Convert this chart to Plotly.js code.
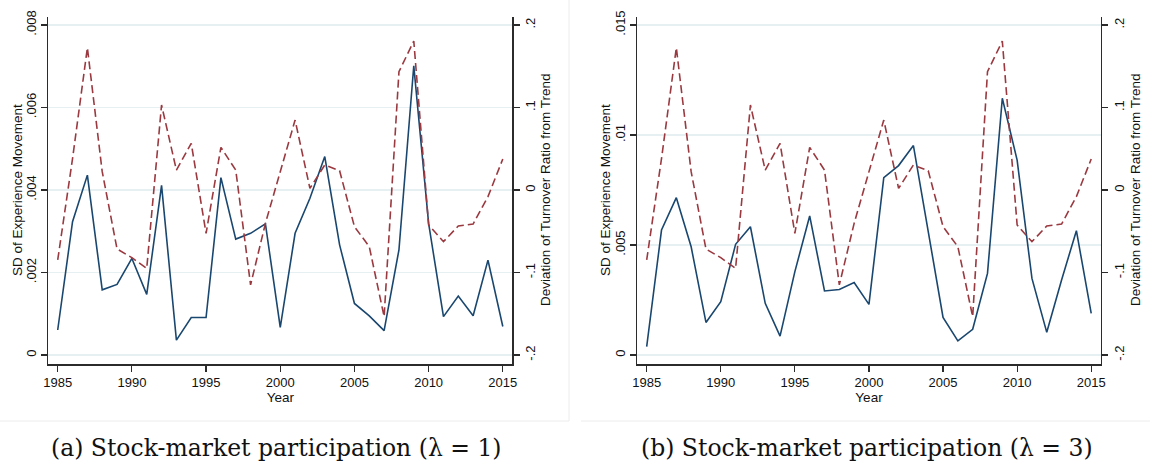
<!DOCTYPE html>
<html>
<head>
<meta charset="utf-8">
<script src="https://cdn.plot.ly/plotly-3.0.1.min.js"></script>
<style>html,body{margin:0;padding:0;background:#fff;}#chart{width:1150px;height:466px;}</style>
</head>
<body>
<div id="chart"></div>
<script>
const years = [1985,1986,1987,1988,1989,1990,1991,1992,1993,1994,1995,1996,1997,1998,1999,2000,2001,2002,2003,2004,2005,2006,2007,2008,2009,2010,2011,2012,2013,2014,2015];
// Panel (a): SD of experience movement, lambda = 1
const sdLambda1 = [0.000606,0.00323,0.00436,0.00158,0.00171,0.00234,0.00147,0.00411,0.00036,0.00091,0.00091,0.00430,0.00281,0.00295,0.00318,0.00067,0.00295,0.00380,0.00481,0.00267,0.00125,0.00095,0.00059,0.00255,0.00701,0.00319,0.00093,0.00143,0.00095,0.00230,0.00069];
// Panel (b): SD of experience movement, lambda = 3
const sdLambda3 = [0.00038,0.00568,0.00715,0.00492,0.00148,0.00242,0.00503,0.00583,0.00235,0.00086,0.00379,0.00632,0.00291,0.00298,0.00329,0.00230,0.00806,0.00861,0.00952,0.00561,0.00171,0.00064,0.00117,0.00371,0.01167,0.00886,0.00348,0.00103,0.00341,0.00565,0.00189];
// Deviation of turnover ratio from trend (same in both panels)
const turnoverDev = [-0.0848,0.038,0.1725,0.0222,-0.0715,-0.082,-0.095,0.103,0.0242,0.0566,-0.0525,0.0517,0.0242,-0.115,-0.0404,0.0222,0.0848,0.002,0.0303,0.0234,-0.0444,-0.0687,-0.1535,0.1434,0.1806,-0.0424,-0.0626,-0.0436,-0.0412,-0.008,0.0376];

const xTicks = [1985,1990,1995,2000,2005,2010,2015];
const leftTicksA = [0,0.002,0.004,0.006,0.008];
const leftTextA = ['0','.002','.004','.006','.008'];
const leftTicksB = [0,0.005,0.01,0.015];
const leftTextB = ['0','.005','.01','.015'];
const rightTicks = [-0.2,-0.1,0,0.1,0.2];
const rightText = ['-.2','-.1','0','.1','.2'];
const leftTitle = 'SD of Experience Movement';
const rightTitle = 'Deviation of Turnover Ratio from Trend';
const captions = ['(a) Stock-market participation (λ = 1)','(b) Stock-market participation (λ = 3)'];

const BLUE = '#1a476f', RED = '#9a3a40', AX = '#2b2b2b', GRID = '#e6eff1';
const W = 1150, H = 466;
const px = v => v / W;
const py = v => (H - v) / H;
const tickFont = {family: 'Liberation Sans, Arial, sans-serif', size: 13, color: '#111'};
const titleFont = {family: 'Liberation Sans, Arial, sans-serif', size: 13.5, color: '#111'};

const traces = [
  {x: years, y: sdLambda1, xaxis: 'x', yaxis: 'y', type: 'scatter', mode: 'lines', line: {color: BLUE, width: 1.6}, hoverinfo: 'skip'},
  {x: years, y: turnoverDev, xaxis: 'x', yaxis: 'y2', type: 'scatter', mode: 'lines', line: {color: RED, width: 1.6, dash: '8px,4px'}, hoverinfo: 'skip'},
  {x: years, y: sdLambda3, xaxis: 'x2', yaxis: 'y3', type: 'scatter', mode: 'lines', line: {color: BLUE, width: 1.6}, hoverinfo: 'skip'},
  {x: years, y: turnoverDev, xaxis: 'x2', yaxis: 'y4', type: 'scatter', mode: 'lines', line: {color: RED, width: 1.6, dash: '8px,4px'}, hoverinfo: 'skip'}
];

const yDom = [py(364), py(16.7)];
function xAxis(dom, anchor) {
  return {domain: dom, anchor: anchor, range: [1984.366, 2015.64], tickvals: xTicks, ticktext: xTicks.map(String),
    showgrid: false, zeroline: false, showline: true, linecolor: AX, linewidth: 1.5, mirror: false,
    ticks: 'outside', ticklen: 6, tickwidth: 1.2, tickcolor: AX, tickfont: tickFont,
    title: {text: 'Year', font: titleFont, standoff: 1}};
}
function yLeft(anchor, range, vals, text) {
  return {domain: yDom, anchor: anchor, range: range, tickvals: vals, ticktext: text, tickangle: -90,
    showgrid: true, gridcolor: GRID, gridwidth: 1.5, zeroline: false, showline: true, linecolor: AX, linewidth: 1.5,
    ticks: 'outside', ticklen: 6, tickwidth: 1.2, tickcolor: AX, tickfont: tickFont};
}
function yRight(anchor, over) {
  return {domain: yDom, anchor: anchor, overlaying: over, side: 'right', range: [-0.2109, 0.2101], tickvals: rightTicks, ticktext: rightText, tickangle: -90,
    showgrid: false, zeroline: false, showline: true, linecolor: AX, linewidth: 1.5,
    ticks: 'outside', ticklen: 6, tickwidth: 1.2, tickcolor: AX, tickfont: tickFont};
}
function vTitle(text, x) {
  return {text: text, xref: 'paper', yref: 'paper', x: px(x), y: py(190), xanchor: 'center', yanchor: 'middle',
    textangle: -90, showarrow: false, font: titleFont};
}
function caption(text, x) {
  return {text: text, xref: 'paper', yref: 'paper', x: px(x), y: py(448), xanchor: 'center', yanchor: 'middle',
    showarrow: false, font: {family: 'DejaVu Serif, serif', size: 23.5, color: '#111'}};
}

const layout = {
  width: W, height: H, margin: {l: 0, r: 0, t: 0, b: 0}, showlegend: false,
  paper_bgcolor: '#fff', plot_bgcolor: '#fff',
  xaxis: xAxis([px(48.3), px(512.3)], 'y'),
  yaxis: yLeft('x', [-0.000218, 0.0082], leftTicksA, leftTextA),
  yaxis2: yRight('x', 'y'),
  xaxis2: xAxis([px(637.3), px(1100.7)], 'y3'),
  yaxis3: yLeft('x2', [-0.000409, 0.015377], leftTicksB, leftTextB),
  yaxis4: yRight('x2', 'y3'),
  shapes: [
    {type: 'line', xref: 'paper', yref: 'paper', x0: px(569), x1: px(569), y0: py(421), y1: 1, line: {color: '#ececec', width: 1}},
    {type: 'line', xref: 'paper', yref: 'paper', x0: 0, x1: px(569), y0: py(421), y1: py(421), line: {color: '#ececec', width: 1}},
    {type: 'line', xref: 'paper', yref: 'paper', x0: px(581), x1: 1, y0: py(421), y1: py(421), line: {color: '#ececec', width: 1}}
  ],
  annotations: [
    vTitle(leftTitle, 17), vTitle(rightTitle, 545),
    vTitle(leftTitle, 605), vTitle(rightTitle, 1135),
    caption(captions[0], 276), caption(captions[1], 867)
  ]
};

Plotly.newPlot('chart', traces, layout, {staticPlot: true, displayModeBar: false});
</script>
</body>
</html>
